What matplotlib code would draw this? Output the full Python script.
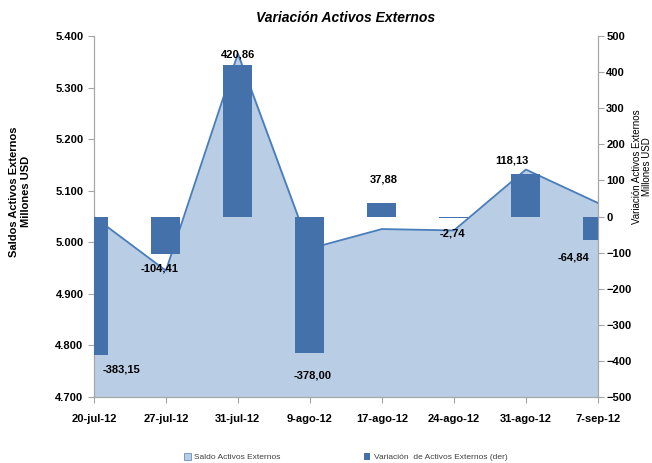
import numpy as np
import matplotlib
matplotlib.use("Agg")
import matplotlib.pyplot as plt
from matplotlib.ticker import FuncFormatter
from matplotlib.patches import Patch

plt.rcParams['font.family'] = ['Liberation Sans Narrow', 'Liberation Sans', 'DejaVu Sans']

fechas = ["20-jul-12", "27-jul-12", "31-jul-12", "9-ago-12",
          "17-ago-12", "24-ago-12", "31-ago-12", "7-sep-12"]
saldo = [5049.5, 4945.1, 5366.0, 4988.0, 5025.8, 5023.1, 5141.2, 5076.4]
variacion = [-383.15, -104.41, 420.86, -378.00, 37.88, -2.74, 118.13, -64.84]
etiquetas = ["-383,15", "-104,41", "420,86", "-378,00", "37,88", "-2,74", "118,13", "-64,84"]
# desplazamiento manual de etiquetas (px)
desp_x = [28, -6, 0, 3, 2, -1, -14, -24]
desp_y = [-15, -14, 10, -23, 23, -16, 13, -18]

c_area = "#B9CDE5"
c_linea = "#4A7EBB"
c_barra = "#4471A9"
c_eje = "#A6A6A6"

fig = plt.figure(figsize=(6.52, 4.63), dpi=100)
ax = fig.add_axes([0.144, 0.1425, 0.773, 0.7795])
x = np.arange(len(fechas))

ax.fill_between(x, 4700, saldo, color=c_area, zorder=1)
ax.plot(x, saldo, color=c_linea, lw=1.3, zorder=2)
ax.set_xlim(0, 7)
ax.set_ylim(4700, 5400)
ax.set_yticks(np.arange(4700, 5401, 100))
ax.yaxis.set_major_formatter(FuncFormatter(lambda v, p: f"{v:,.0f}".replace(",", ".")))
ax.set_xticks(x)
ax.set_xticklabels(fechas)

ax2 = ax.twinx()
ax2.bar(x, variacion, width=0.4, color=c_barra, zorder=3)
ax2.set_ylim(-500, 500)
ax2.set_yticks(np.arange(-500, 501, 100))
ax2.set_xlim(0, 7)

for i, v in enumerate(variacion):
    ax2.annotate(etiquetas[i], (x[i], v), xytext=(desp_x[i], desp_y[i]),
                 textcoords="offset pixels", ha="center", va="center",
                 fontsize=8, fontweight="bold", annotation_clip=False)

for a in (ax, ax2):
    a.spines["top"].set_visible(False)
    for s in ["left", "right", "bottom"]:
        a.spines[s].set_color(c_eje)
    a.tick_params(axis="both", colors=c_eje, labelcolor="black", labelsize=8, length=4)
    for t in a.get_yticklabels() + a.get_xticklabels():
        t.set_fontweight("bold")
ax.tick_params(axis="x", pad=8)
ax2.tick_params(axis="y", pad=2)

ax.set_ylabel("Saldos Activos Externos\nMillones USD", fontsize=8, fontweight="bold")
ax.yaxis.set_label_coords(-0.125, 0.57)

# titulo del eje derecho
fig.text(0.984, 0.64, "Variación Activos Externos\nMillones USD", rotation=90,
         ha="center", va="center", fontsize=7, linespacing=1.0, multialignment="center")

fig.text(0.53, 0.962, "Variación Activos Externos", ha="center", va="center",
         fontsize=10, fontweight="bold", style="italic")

handles = [Patch(facecolor=c_area, edgecolor=c_linea, lw=0.5), Patch(facecolor=c_barra)]
fig.legend(handles, ["Saldo Activos Externos", "Variación  de Activos Externos (der)"],
           loc="center", bbox_to_anchor=(0.53, 0.012), ncol=2, frameon=False,
           fontsize=6, columnspacing=10, handlelength=0.8, handleheight=0.8,
           handletextpad=0.4, labelcolor="#404040")

fig.savefig("out.png", dpi=100)
